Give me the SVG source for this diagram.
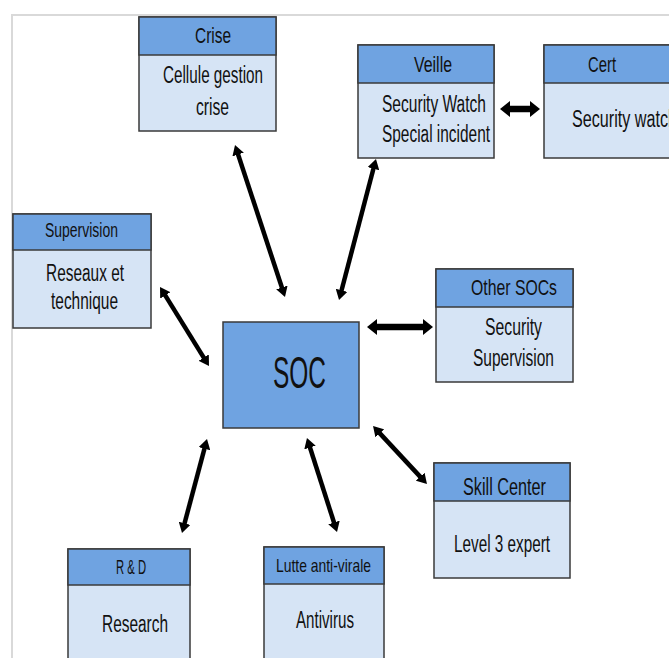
<svg xmlns="http://www.w3.org/2000/svg" width="669" height="658" viewBox="0 0 669 658">
  <style>
    .hd { fill: #6fa3e1; stroke: #3a3a3a; stroke-width: 1.5; }
    .bd { fill: #d6e4f5; stroke: #3a3a3a; stroke-width: 1.5; }
    .core { fill: #6fa3e1; stroke: #3a3a3a; stroke-width: 1.5; }
    text { font-family: "Liberation Sans", Arial, sans-serif; fill: #111; }
    .t { font-size: 22px; }
    .ts { font-size: 20px; }
    .b { font-size: 23px; }
    .lnk { stroke: #000; stroke-width: 4.5; fill: none; marker-start: url(#tip); marker-end: url(#tip); }
    .lnkw { stroke: #000; stroke-width: 6.5; fill: none; marker-start: url(#tipw); marker-end: url(#tipw); }
  </style>
  <defs>
    <marker id="tip" viewBox="0 0 10 12" markerWidth="10" markerHeight="12" refX="3" refY="6" orient="auto-start-reverse" markerUnits="userSpaceOnUse">
      <path d="M0,0 L10,6 L0,12 Z" fill="#000"/>
    </marker>
    <marker id="tipw" viewBox="0 0 10 16" markerWidth="10" markerHeight="16" refX="3" refY="8" orient="auto-start-reverse" markerUnits="userSpaceOnUse">
      <path d="M0,0 L10,8 L0,16 Z" fill="#000"/>
    </marker>
  </defs>

  <rect width="669" height="658" fill="#fff"/>
  <!-- page frame -->
  <path d="M12,658 V15 H669" fill="none" stroke="#d9d9d9" stroke-width="2"/>

  <g id="connectors">
    <line class="lnk" x1="237.2" y1="151.7" x2="282.8" y2="290.3"/>
    <line class="lnk" x1="374.2" y1="165.8" x2="340.8" y2="293.2"/>
    <line class="lnk" x1="163.7" y1="292.9" x2="205.3" y2="360.1"/>
    <line class="lnk" x1="205.2" y1="445.8" x2="183.8" y2="526.2"/>
    <line class="lnk" x1="309.1" y1="444.7" x2="334.9" y2="525.3"/>
    <line class="lnk" x1="377.8" y1="431.1" x2="422.2" y2="478.9"/>
    <line class="lnkw" x1="374" y1="327" x2="426" y2="327"/>
    <line class="lnkw" x1="507" y1="109" x2="533" y2="109"/>
  </g>

  <g id="crise">
    <rect class="bd" x="139" y="17" width="137" height="114"/>
    <rect class="hd" x="139" y="17" width="137" height="38"/>
    <text class="t" x="195" y="43" textLength="36" lengthAdjust="spacingAndGlyphs">Crise</text>
    <text class="b" x="163" y="83" textLength="100" lengthAdjust="spacingAndGlyphs">Cellule gestion</text>
    <text class="b" x="196" y="115" textLength="33" lengthAdjust="spacingAndGlyphs">crise</text>
  </g>

  <g id="veille">
    <rect class="bd" x="358" y="45" width="136" height="113"/>
    <rect class="hd" x="358" y="45" width="136" height="38"/>
    <text class="t" x="414" y="72" textLength="38" lengthAdjust="spacingAndGlyphs">Veille</text>
    <text class="b" x="382" y="112" textLength="104" lengthAdjust="spacingAndGlyphs">Security Watch</text>
    <text class="b" x="382" y="142" textLength="108" lengthAdjust="spacingAndGlyphs">Special incident</text>
  </g>

  <g id="cert">
    <rect class="bd" x="544" y="45" width="140" height="113"/>
    <rect class="hd" x="544" y="45" width="140" height="38"/>
    <text class="t" x="588" y="72" textLength="28" lengthAdjust="spacingAndGlyphs">Cert</text>
    <text class="b" x="572" y="127" textLength="105" lengthAdjust="spacingAndGlyphs">Security watch</text>
  </g>

  <g id="supervision">
    <rect class="bd" x="13" y="214" width="138" height="114"/>
    <rect class="hd" x="13" y="214" width="138" height="36"/>
    <text class="ts" x="45" y="237" textLength="73" lengthAdjust="spacingAndGlyphs">Supervision</text>
    <text class="b" x="46" y="281" textLength="78" lengthAdjust="spacingAndGlyphs">Reseaux et</text>
    <text class="b" x="51" y="309" textLength="67" lengthAdjust="spacingAndGlyphs">technique</text>
  </g>

  <g id="soc">
    <rect class="core" x="223" y="322" width="136" height="106"/>
    <text x="273" y="388" font-size="44" textLength="53" lengthAdjust="spacingAndGlyphs">SOC</text>
  </g>

  <g id="other-socs">
    <rect class="bd" x="436" y="269" width="137" height="113"/>
    <rect class="hd" x="436" y="269" width="137" height="38"/>
    <text class="t" x="471" y="295" textLength="86" lengthAdjust="spacingAndGlyphs">Other SOCs</text>
    <text class="b" x="485" y="335" textLength="57" lengthAdjust="spacingAndGlyphs">Security</text>
    <text class="b" x="473" y="366" textLength="81" lengthAdjust="spacingAndGlyphs">Supervision</text>
  </g>

  <g id="skill-center">
    <rect class="bd" x="434" y="463" width="136" height="115"/>
    <rect class="hd" x="434" y="463" width="136" height="38"/>
    <text class="b" x="463" y="495" textLength="83" lengthAdjust="spacingAndGlyphs">Skill Center</text>
    <text class="b" x="454" y="552" textLength="96" lengthAdjust="spacingAndGlyphs">Level 3 expert</text>
  </g>

  <g id="rd">
    <rect class="bd" x="68" y="549" width="122" height="120"/>
    <rect class="hd" x="68" y="549" width="122" height="36"/>
    <text class="ts" x="116" y="574" textLength="30" lengthAdjust="spacingAndGlyphs">R &amp; D</text>
    <text class="b" x="102" y="632" textLength="66" lengthAdjust="spacingAndGlyphs">Research</text>
  </g>

  <g id="lutte-anti-virale">
    <rect class="bd" x="264" y="547" width="120" height="120"/>
    <rect class="hd" x="264" y="547" width="120" height="37"/>
    <text x="276" y="572" font-size="19" textLength="95" lengthAdjust="spacingAndGlyphs">Lutte anti-virale</text>
    <text class="b" x="296" y="628" textLength="58" lengthAdjust="spacingAndGlyphs">Antivirus</text>
  </g>
</svg>
